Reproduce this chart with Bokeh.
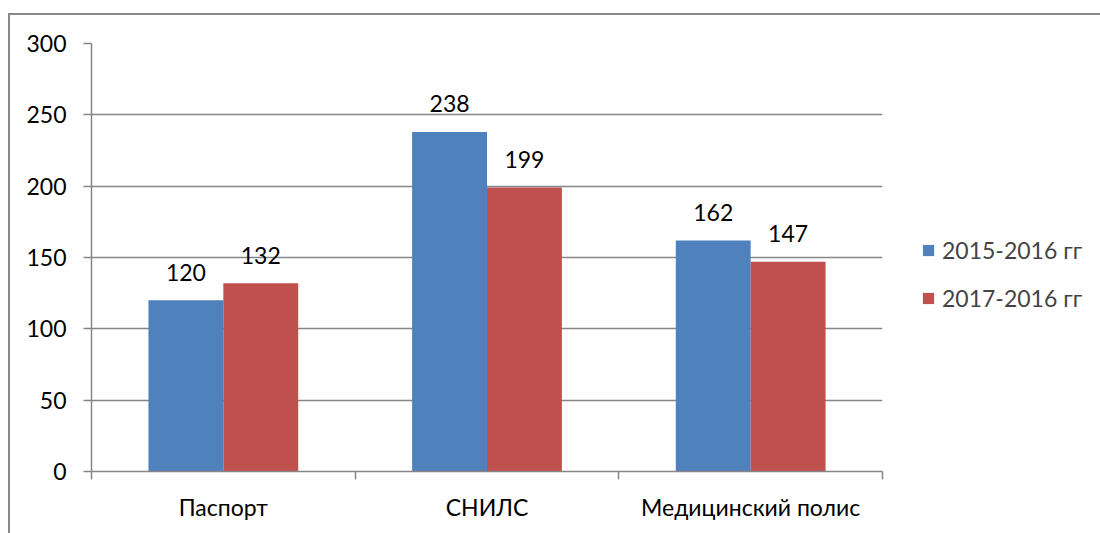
from bokeh.plotting import figure
from bokeh.models import FixedTicker, Legend, LegendItem, ColumnDataSource, Range1d
from bokeh.layouts import column
from bokeh.embed import file_html
from bokeh.resources import INLINE
from bokeh.core.properties import value

categories = ["Паспорт", "СНИЛС", "Медицинский полис"]
series_names = ["2015-2016 гг", "2017-2016 гг"]
values_a = [120, 238, 162]
values_b = [132, 199, 147]
y_ticks = [0, 50, 100, 150, 200, 250, 300]

BLUE = "#4F81BD"
RED = "#C0504D"
GRID = "#868686"
FONT = "Lato"
FS = "23px"

p = figure(frame_width=791, frame_height=428, output_backend="svg", toolbar_location=None,
           x_range=Range1d(0, len(categories)), y_range=Range1d(0, 300),
           min_border_left=81, min_border_right=0, min_border_top=28, min_border_bottom=62)
p.outline_line_color = None
p.background_fill_color = "white"
p.border_fill_color = "white"

bw = 0.284
xa = [i + 0.5 - bw / 2 for i in range(len(categories))]
xb = [i + 0.5 + bw / 2 for i in range(len(categories))]
src_a = ColumnDataSource(dict(x=xa, top=values_a, lbl=[str(v) for v in values_a]))
src_b = ColumnDataSource(dict(x=xb, top=values_b, lbl=[str(v) for v in values_b]))

ra = p.vbar(x="x", top="top", width=bw, bottom=0, source=src_a, fill_color=BLUE, line_color=None)
rb = p.vbar(x="x", top="top", width=bw, bottom=0, source=src_b, fill_color=RED, line_color=None)

for src in (src_a, src_b):
    p.text(x="x", y="top", text="lbl", source=src, text_align="center", text_baseline="alphabetic",
           y_offset=-28, text_font=value(FONT), text_font_size=FS, text_color="black")

# y axis
p.yaxis.ticker = FixedTicker(ticks=y_ticks)
p.yaxis.axis_line_color = GRID
p.yaxis.axis_line_width = 1.5
p.yaxis.major_tick_line_color = GRID
p.yaxis.major_tick_line_width = 1.5
p.yaxis.major_tick_out = 8
p.yaxis.major_tick_in = 0
p.yaxis.minor_tick_line_color = None
p.yaxis.major_label_standoff = 17
p.yaxis.major_label_text_font = FONT
p.yaxis.major_label_text_font_size = FS
p.yaxis.major_label_text_color = "black"

# x axis
p.xaxis.ticker = FixedTicker(ticks=[i + 0.5 for i in range(len(categories))],
                             minor_ticks=list(range(len(categories) + 1)))
p.xaxis.major_label_overrides = {i + 0.5: c for i, c in enumerate(categories)}
p.xaxis.axis_line_color = GRID
p.xaxis.axis_line_width = 1.5
p.xaxis.major_tick_line_color = None
p.xaxis.major_tick_out = 0
p.xaxis.major_tick_in = 0
p.xaxis.minor_tick_line_color = GRID
p.xaxis.minor_tick_line_width = 1.5
p.xaxis.minor_tick_out = 8
p.xaxis.minor_tick_in = 0
p.xaxis.major_label_standoff = 13
p.xaxis.major_label_text_font = FONT
p.xaxis.major_label_text_font_size = FS
p.xaxis.major_label_text_color = "black"

p.xgrid.grid_line_color = None
p.ygrid.grid_line_color = GRID
p.ygrid.grid_line_width = 1.5

legend = Legend(items=[LegendItem(label=series_names[0], renderers=[ra]),
                       LegendItem(label=series_names[1], renderers=[rb])],
                location=(39, 159), orientation="vertical",
                glyph_width=14, glyph_height=14, label_height=22, spacing=20,
                padding=0, margin=0, label_standoff=7,
                label_text_font=FONT, label_text_font_size=FS,
                border_line_color=None, background_fill_alpha=0)
p.add_layout(legend, "right")

layout = column(p, styles={"border-left": "2px solid #898989", "border-top": "2px solid #898989",
                           "margin": "13px 0px 0px 8px"})

open("out.html", "w").write(file_html(layout, INLINE))
